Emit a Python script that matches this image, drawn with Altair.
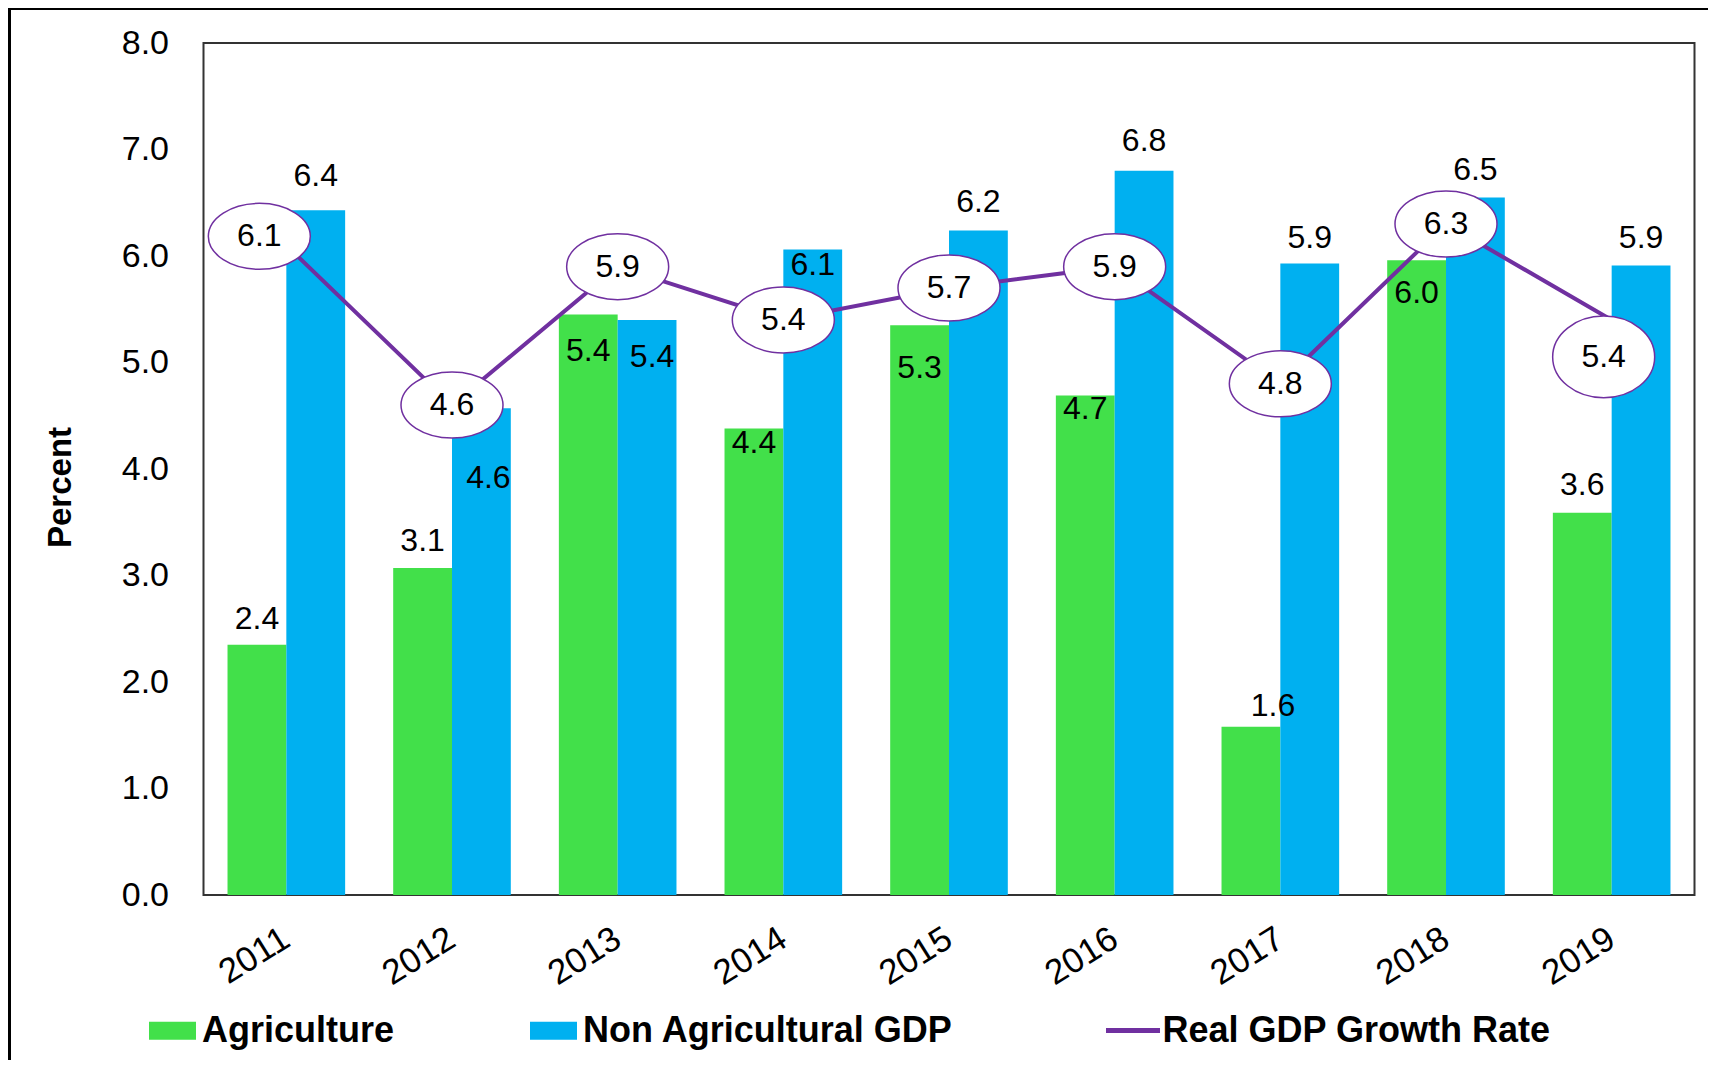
import altair as alt
import pandas as pd

# ---------------- data ----------------
years = ["2011", "2012", "2013", "2014", "2015", "2016", "2017", "2018", "2019"]
agriculture = [2.35, 3.07, 5.45, 4.38, 5.35, 4.69, 1.58, 5.96, 3.59]
non_agri = [6.43, 4.57, 5.40, 6.06, 6.24, 6.80, 5.93, 6.55, 5.91]
real_gdp = [6.1, 4.6, 5.9, 5.4, 5.7, 5.9, 4.8, 6.3, 5.4]
agri_labels = ["2.4", "3.1", "5.4", "4.4", "5.3", "4.7", "1.6", "6.0", "3.6"]
non_agri_labels = ["6.4", "4.6", "5.4", "6.1", "6.2", "6.8", "5.9", "6.5", "5.9"]
gdp_labels = ["6.1", "4.6", "5.9", "5.4", "5.7", "5.9", "4.8", "6.3", "5.4"]
bar_series = ["Agriculture", "Non Agricultural GDP"]
line_series = "Real GDP Growth Rate"

# ---------------- style ----------------
FONT = "Liberation Sans"
GREEN = "#42E04A"
BLUE = "#00B0F0"
PURPLE = "#7030A0"
# label nudges (pixels): (dx, dy) relative to the bar top
agri_nudge = [(0, -26), (0, -27), (0, 36), (0, 14), (0, 43), (0, 13), (22, -21), (0, 33), (0, -28)]
non_agri_nudge = [(0, -34), (7, 70), (5, 37), (0, 15), (0, -28), (0, -30), (0, -25), (0, -27), (0, -28)]

bars_df = pd.DataFrame({
    "year": years * 2,
    "series": [bar_series[0]] * len(years) + [bar_series[1]] * len(years),
    "value": agriculture + non_agri,
    "label": agri_labels + non_agri_labels,
})
bars_df["key"] = bars_df["series"] + "|" + bars_df["year"]
nudges = agri_nudge + non_agri_nudge

line_df = pd.DataFrame({"year": years, "value": real_gdp, "label": gdp_labels,
                        "series": [line_series] * len(years)})

x_enc = alt.X("year:N", sort=years, title=None,
              scale=alt.Scale(domain=years, paddingInner=0.29, paddingOuter=0.145),
              axis=alt.Axis(labelAngle=328, labelAlign="right", labelBaseline="middle",
                            labelFontSize=35, labelPadding=40, labelColor="black",
                            ticks=False, domain=False, grid=False, labelFont=FONT))
y_enc = alt.Y("value:Q", title="Percent",
              scale=alt.Scale(domain=[0, 8], nice=False, zero=True),
              axis=alt.Axis(values=[0, 1, 2, 3, 4, 5, 6, 7, 8], format=".1f",
                            labelFontSize=34, labelPadding=35, labelColor="black",
                            ticks=False, domain=False, grid=False, labelFont=FONT,
                            titleFontSize=33, titleFont=FONT, titleFontWeight="bold",
                            titleColor="black", titlePadding=44, titleY=444))
xoff = alt.XOffset("series:N", sort=bar_series, scale=alt.Scale(domain=bar_series, paddingInner=0, paddingOuter=0))

bars = alt.Chart(bars_df).mark_bar().encode(
    x=x_enc, xOffset=xoff, y=y_enc,
    color=alt.Color("series:N", scale=alt.Scale(domain=bar_series, range=[GREEN, BLUE]),
                    legend=alt.Legend(title=None, orient="none", legendX=-54.5, legendY=964,
                                      direction="horizontal", padding=0,
                                      symbolType="M-1,-0.383H1V0.383H-1Z", symbolSize=2209,
                                      symbolStrokeWidth=0, symbolOpacity=1,
                                      labelFont=FONT, labelFontSize=36, labelFontWeight="bold",
                                      labelColor="black", labelOffset=6, labelLimit=700,
                                      columnPadding=135)),
)

label_layers = []
groups = {}
for k, nd in zip(bars_df["key"], nudges):
    groups.setdefault(nd, []).append(k)
for (dx, dy), keys in groups.items():
    label_layers.append(
        alt.Chart(bars_df).mark_text(font=FONT, fontSize=32, color="black",
                                     baseline="middle", align="center", dx=dx, dy=dy)
        .encode(x=x_enc, xOffset=xoff, y=y_enc, text="label:N")
        .transform_filter(alt.FieldOneOfPredicate(field="key", oneOf=keys))
    )

line = alt.Chart(line_df).mark_line(strokeWidth=4).encode(
    x=x_enc, y=y_enc,
    stroke=alt.Stroke("series:N", scale=alt.Scale(domain=[line_series], range=[PURPLE]),
                      legend=alt.Legend(title=None, orient="none", legendX=900, legendY=958,
                                        direction="horizontal", padding=0,
                                        symbolType="stroke", symbolSize=2916,
                                        symbolStrokeWidth=5,
                                        labelFont=FONT, labelFontSize=36, labelFontWeight="bold",
                                        labelColor="black", labelOffset=0, labelLimit=700)),
)

ELL = "M-1,0A1,0.647,0,1,1,1,0A1,0.647,0,1,1,-1,0Z"
ELL_TALL = "M-1,0A1,0.8,0,1,1,1,0A1,0.8,0,1,1,-1,0Z"

def ellipse_layer(sel_years, shape, xo=0, yo=0):
    pt = alt.Chart(line_df).mark_point(shape=shape, size=10404, filled=True, fill="white",
                                       stroke=PURPLE, strokeWidth=1.5, opacity=1,
                                       xOffset=xo, yOffset=yo).encode(x=x_enc, y=y_enc)
    tx = alt.Chart(line_df).mark_text(font=FONT, fontSize=32, color="black",
                                      baseline="middle", align="center", dx=xo, dy=yo
                                      ).encode(x=x_enc, y=y_enc, text="label:N")
    flt = alt.FieldOneOfPredicate(field="year", oneOf=sel_years)
    return [pt.transform_filter(flt), tx.transform_filter(flt)]

ell_layers = (ellipse_layer(years[1:8], ELL)
              + ellipse_layer(["2011"], ELL, -27, -9)
              + ellipse_layer(["2019"], ELL_TALL, -8, 37))

dummy = pd.DataFrame({"d": [0]})
frame_left = alt.Chart(dummy).mark_rule(color="black", strokeWidth=3).encode(
    x=alt.value(-194), y=alt.value(-35), y2=alt.value(1020))
frame_top = alt.Chart(dummy).mark_rule(color="black", strokeWidth=3).encode(
    x=alt.value(-196), x2=alt.value(1510), y=alt.value(-34.5))

chart = alt.layer(bars, *label_layers, line, *ell_layers, frame_left, frame_top).properties(
    width=1491, height=852,
    padding={"left": 195.5, "top": 35, "right": 13, "bottom": 165},
    autosize=alt.AutoSizeParams(type="none"),
    background="white",
).resolve_scale(color="independent", stroke="independent").configure(
    font=FONT
).configure_view(
    stroke="#333333", strokeWidth=2
)

chart.save("out.html", embed_options={"renderer": "svg", "actions": False})
